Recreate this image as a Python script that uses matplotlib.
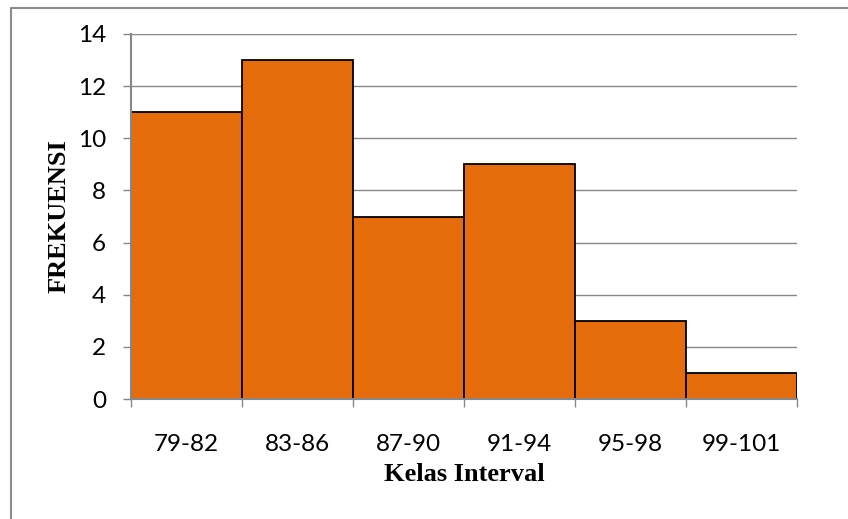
import matplotlib
matplotlib.use("Agg")
import matplotlib.pyplot as plt
from matplotlib.lines import Line2D
import numpy as np

categories = ["79-82", "83-86", "87-90", "91-94", "95-98", "99-101"]
frequencies = [11, 13, 7, 9, 3, 1]
y_ticks = [0, 2, 4, 6, 8, 10, 12, 14]

W, H = 848, 519
fig = plt.figure(figsize=(W / 100, H / 100), dpi=100)
ax = fig.add_axes([131 / W, 1 - 399 / H, (797 - 131) / W, (399 - 34) / H])

gray = "#878787"
x = np.arange(len(categories))
ax.bar(x, frequencies, width=1.0, color="#E46C0A", edgecolor="black",
       linewidth=1.3, zorder=3)

ax.set_xlim(-0.5, len(categories) - 0.5)
ax.set_ylim(0, 14)
ax.set_yticks(y_ticks)
ax.set_yticklabels([str(v) for v in y_ticks], fontfamily="Lato", fontsize=17.5)
ax.yaxis.grid(True, color=gray, linewidth=1.0, zorder=0)
ax.set_axisbelow(True)

# category labels centered, tick marks at boundaries
ax.set_xticks(x)
ax.set_xticklabels(categories, fontfamily="Lato", fontsize=17.5)
ax.tick_params(axis="x", which="major", length=0, pad=25)
ax.set_xticks(np.arange(len(categories) + 1) - 0.5, minor=True)
ax.tick_params(axis="x", which="minor", length=6, width=1.0, color=gray)
ax.tick_params(axis="y", length=6, width=1.0, color=gray, pad=12)

for s in ["top", "right"]:
    ax.spines[s].set_visible(False)
for s in ["left", "bottom"]:
    ax.spines[s].set_color(gray)
    ax.spines[s].set_linewidth(1.5)
    ax.spines[s].set_zorder(4)

ax.set_xlabel("Kelas Interval", fontfamily="Liberation Serif", fontweight="bold",
              fontsize=19, labelpad=6)
ax.set_ylabel("FREKUENSI", fontfamily="Liberation Serif", fontweight="bold",
              fontsize=19, labelpad=5)

# chart-area border (left and top visible)
fig.add_artist(Line2D([10.5 / W, 10.5 / W, 1.0], [0.0, 1 - 7.5 / H, 1 - 7.5 / H],
                      transform=fig.transFigure, color="#8C8C8C", linewidth=1.5))

fig.savefig("out.png", dpi=100)
